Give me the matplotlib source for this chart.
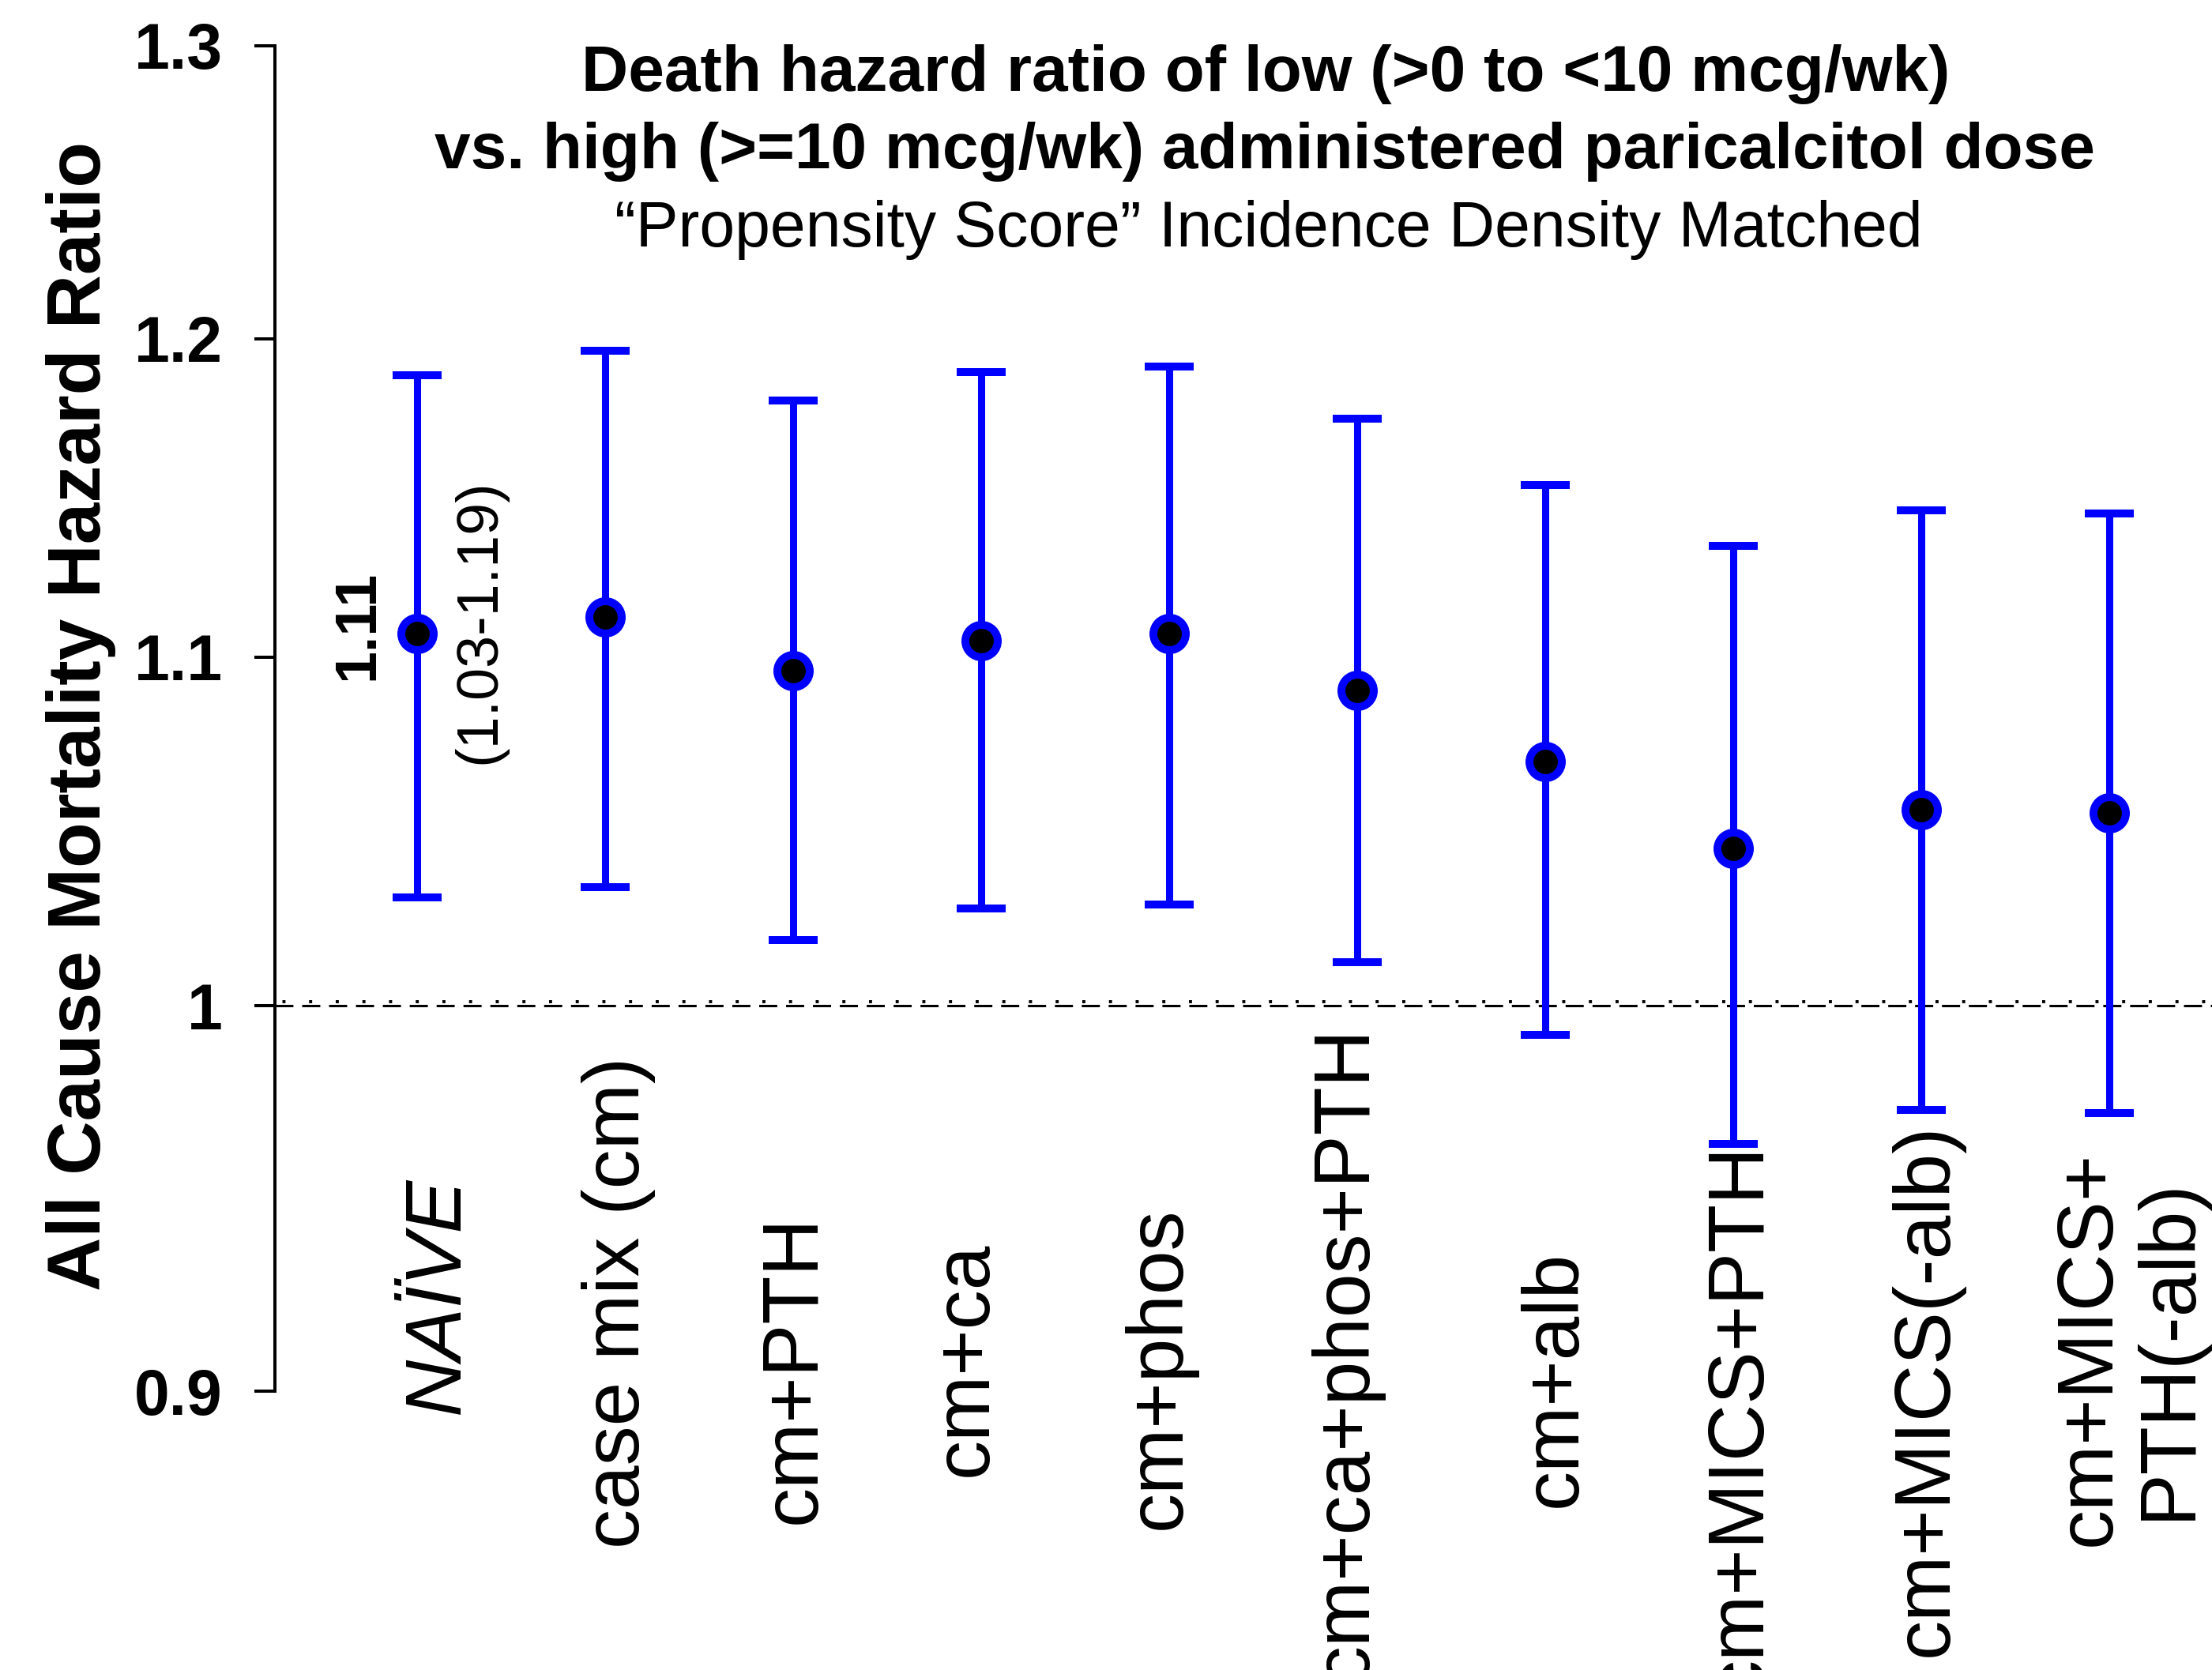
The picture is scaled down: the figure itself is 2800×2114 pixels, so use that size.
import numpy as np
import matplotlib
matplotlib.use("Agg")
import matplotlib.pyplot as plt
import matplotlib.transforms as mtransforms
from matplotlib.ticker import FixedLocator, NullFormatter

# hazard ratios
categories = ["NAÏVE", "case mix (cm)", "cm+PTH", "cm+ca", "cm+phos",
              "cm+ca+phos+PTH", "cm+alb", "cm+MICS+PTH", "cm+MICS(-alb)",
              "cm+MICS+\nPTH(-alb)"]
hr = [1.107, 1.112, 1.096, 1.105, 1.107, 1.090, 1.069, 1.044, 1.055, 1.054]
ci_low = [1.030, 1.033, 1.018, 1.027, 1.028, 1.012, 0.992, 0.963, 0.972, 0.971]
ci_high = [1.188, 1.196, 1.180, 1.189, 1.191, 1.174, 1.153, 1.134, 1.145, 1.144]
yticks = [0.9, 1.0, 1.1, 1.2, 1.3]
ytick_labels = ["0.9", "1", "1.1", "1.2", "1.3"]

title_lines = ["Death hazard ratio of low (>0 to <10 mcg/wk)",
               "vs. high (>=10 mcg/wk) administered paricalcitol dose",
               "\u201cPropensity Score\u201d Incidence Density Matched"]
ylabel = "All Cause Mortality Hazard Ratio"

# layout of the hand-placed category labels (pixels in the 2800x2114 figure)
label_dx = [27, 17, 2, -19, -12, -14, 13, 9, 7, 25]
label_cy = [1640, 1649, 1733, 1720, 1732, 1714, 1745, 1797, 1759, 1707]

plt.rcParams['font.family'] = ['Liberation Sans', 'DejaVu Sans']
plt.rcParams['lines.scale_dashes'] = False

W, H = 2800, 2114
DPI = 100
fig = plt.figure(figsize=(W / DPI, H / DPI), dpi=DPI)
ax = fig.add_axes([348 / W, 1 - 1761 / H, 1 - 348 / W, (1761 - 58) / H])

x = np.arange(1, len(hr) + 1)
hr_a = np.array(hr)
yerr = [hr_a - np.array(ci_low), np.array(ci_high) - hr_a]

ax.errorbar(x, hr_a, yerr=yerr, fmt='o', color='blue', ecolor='blue',
            elinewidth=6.5, capsize=22, capthick=6.5,
            ms=29.5, mfc='black', mec='blue', mew=7.2, zorder=3)

# reference line at HR = 1 (dash + offset dots, like the original)
ax.axhline(1.0, color='black', lw=2.2, ls=(0, (16.5, 8)), zorder=1)
dots_tr = ax.transData + mtransforms.ScaledTranslation(0, 3.6 / 72, fig.dpi_scale_trans)
ax.plot([0, 11], [1.0, 1.0], color='black', lw=2.8, ls=(0, (2.8, 21.5)),
        transform=dots_tr, zorder=1)

ax.set_yscale('log')
ax.set_ylim(0.9, 1.3)
ax.set_xlim(0.244, 10.546)
ax.yaxis.set_major_locator(FixedLocator(yticks))
ax.set_yticklabels(ytick_labels)
ax.yaxis.set_minor_locator(FixedLocator([0.9, 1.3]))
ax.yaxis.set_minor_formatter(NullFormatter())
ax.tick_params(axis='y', which='major', direction='out', length=18.7, width=2.9,
               pad=29, labelsize=58)
ax.tick_params(axis='y', which='minor', direction='inout', length=33, width=2.9)
for lab in ax.get_yticklabels():
    lab.set_fontweight('bold')
ax.set_xticks([])
for side in ['top', 'right', 'bottom']:
    ax.spines[side].set_visible(False)
ax.spines['left'].set_linewidth(2.9)

# estimate for the naive model, written next to its point
ax.annotate(f"{hr[0]:.2f}", xy=(x[0], hr[0]), xytext=(-54, 8),
            textcoords='offset points', rotation=90, ha='center', va='center',
            fontsize=53, fontweight='bold')
ax.annotate(f"({ci_low[0]:.2f}-{ci_high[0]:.2f})", xy=(x[0], hr[0]), xytext=(57, 11),
            textcoords='offset points', rotation=90, ha='center', va='center',
            fontsize=53)

# category labels under the axis
lab_tr = mtransforms.blended_transform_factory(ax.transData, fig.transFigure)
for xi, name, dx, cy in zip(x, categories, label_dx, label_cy):
    style = 'italic' if xi == 1 else 'normal'
    tr = lab_tr + mtransforms.ScaledTranslation(dx / DPI, 0, fig.dpi_scale_trans)
    ax.text(xi, 1 - cy / H, name, transform=tr, rotation=90, ha='center', va='center',
            multialignment='center', fontsize=72, fontstyle=style,
            linespacing=1.1, clip_on=False)

fig.text(103 / W, 1 - 906 / H, ylabel, rotation=90, ha='center', va='center',
         fontsize=68, fontweight='bold')

fig.text(1602 / W, 1 - 115 / H, title_lines[0], ha='center', va='baseline',
         fontsize=59, fontweight='bold')
fig.text(1601 / W, 1 - 213 / H, title_lines[1], ha='center', va='baseline',
         fontsize=59, fontweight='bold')
fig.text(1606 / W, 1 - 312 / H, title_lines[2], ha='center', va='baseline',
         fontsize=58)

fig.savefig("out.png", dpi=DPI)
